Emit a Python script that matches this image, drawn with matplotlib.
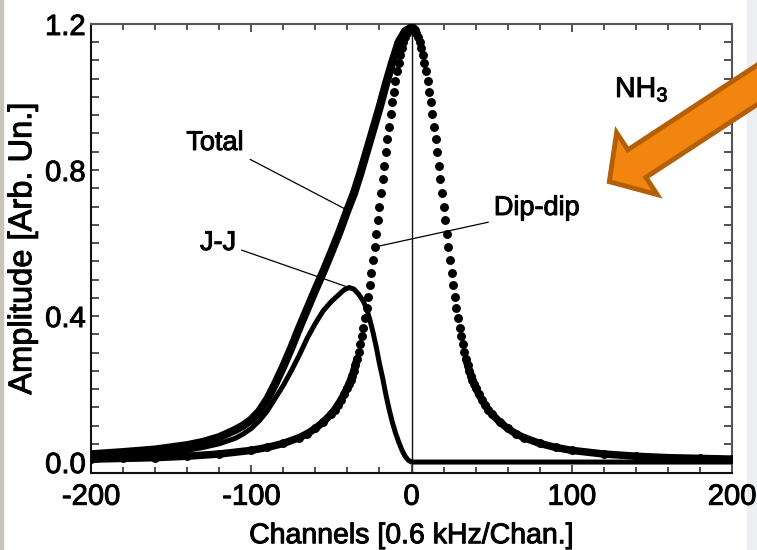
import numpy as np
import matplotlib.pyplot as plt
import matplotlib.patheffects as pe
from matplotlib.patches import FancyArrow, Rectangle
from matplotlib.ticker import MultipleLocator

plt.rcParams['font.family'] = ['Liberation Sans', 'DejaVu Sans']
plt.rcParams['mathtext.fontset'] = 'custom'
plt.rcParams['mathtext.rm'] = 'Liberation Sans'
plt.rcParams['mathtext.it'] = 'Liberation Sans'
plt.rcParams['axes.unicode_minus'] = False

# data
# ---------------------------------------------------------------------------------------
# dip-dip, one point per channel for 0..40 (symmetric), sparser in the tails
dd_core = [1.190, 1.188, 1.184, 1.176, 1.165, 1.152, 1.135, 1.116, 1.094, 1.070,
           1.044, 1.015, 0.985, 0.953, 0.919, 0.884, 0.849, 0.812, 0.775, 0.738,
           0.700, 0.663, 0.626, 0.589, 0.553, 0.518, 0.484, 0.451, 0.422, 0.394,
           0.368, 0.344, 0.322, 0.302, 0.283, 0.266, 0.250, 0.237, 0.225, 0.214,
           0.204]
dd_tail_ch = [42, 44, 46, 48, 50, 55, 60, 65, 70, 80, 90, 100, 120, 140, 160, 180, 200]
dd_tail = [0.186, 0.170, 0.156, 0.143, 0.132, 0.110, 0.092, 0.078, 0.067, 0.051,
           0.040, 0.032, 0.022, 0.016, 0.012, 0.010, 0.008]

jj_ch = [-200, -180, -160, -140, -130, -120, -110, -105, -100, -95, -90, -85, -80, -75,
         -70, -65, -60, -55, -50, -45, -42, -39, -36, -33, -30, -28, -26, -24, -22, -20,
         -18, -16, -14, -12, -10, -8, -6, -4, -2, 0, 200]
jj_amp = [0.013, 0.017, 0.023, 0.032, 0.040, 0.050, 0.065, 0.077, 0.092, 0.113, 0.140,
          0.175, 0.210, 0.250, 0.293, 0.340, 0.380, 0.415, 0.440, 0.460, 0.472, 0.478,
          0.474, 0.460, 0.440, 0.420, 0.390, 0.355, 0.315, 0.270, 0.230, 0.185, 0.145,
          0.110, 0.080, 0.055, 0.033, 0.016, 0.005, 0.0, 0.0]

tot_ch = [-200, -180, -160, -140, -130, -120, -110, -105, -100, -95, -90, -85, -80, -75,
          -70, -65, -60, -55, -50, -45, -40, -36, -32, -28, -24, -20, -16, -12, -8, -4, 0]
tot_amp = [0.021, 0.027, 0.034, 0.046, 0.055, 0.068, 0.088, 0.100, 0.116, 0.139, 0.172,
           0.215, 0.262, 0.313, 0.368, 0.420, 0.472, 0.522, 0.575, 0.630, 0.690, 0.735,
           0.790, 0.850, 0.910, 0.970, 1.035, 1.095, 1.150, 1.180, 1.190]

x_ticks = [-200, -100, 0, 100, 200]
y_ticks = [0.0, 0.4, 0.8, 1.2]
y_tick_labels = ['0.0', '0.4', '0.8', '1.2']

# mirror the dip-dip half profile
dd_ch = np.concatenate([-np.array(dd_tail_ch[::-1]), -np.arange(40, 0, -1),
                        np.arange(0, 41), dd_tail_ch])
dd_amp = np.concatenate([dd_tail[::-1], dd_core[:0:-1], dd_core, dd_tail])
jj_ch = np.array(jj_ch)
jj_amp = np.array(jj_amp)
tot_ch = np.array(tot_ch)
tot_amp = np.array(tot_amp)

heavy = [pe.withStroke(linewidth=0.7, foreground='black')]

# figure
# ---------------------------------------------------------------------------------------
fig = plt.figure(figsize=(7.57, 5.5), dpi=100)
ax = fig.add_axes([0.1202, 0.14, 0.8468, 0.8164])

ax.axvline(0, color='#111111', lw=1.0, zorder=1)

tail = np.abs(dd_ch) >= 34
ax.plot(dd_ch[tail & (dd_ch < 0)], dd_amp[tail & (dd_ch < 0)], '-', c='k', lw=5.4,
        solid_capstyle='round', zorder=2)
ax.plot(dd_ch[tail & (dd_ch > 0)], dd_amp[tail & (dd_ch > 0)], '-', c='k', lw=5.4,
        solid_capstyle='round', zorder=2)
ax.plot(dd_ch, dd_amp, 'o', c='k', ms=5.4, zorder=3)
ax.plot(jj_ch, jj_amp, '-', c='k', lw=3.6, solid_joinstyle='round', zorder=3)
ax.plot(tot_ch, tot_amp, '-', c='k', lw=6.0, solid_capstyle='round',
        solid_joinstyle='round', zorder=3)

ax.set_xlim(-200, 200)
ax.set_ylim(-0.03, 1.2)
ax.set_xticks(x_ticks)
ax.set_yticks(y_ticks)
ax.set_yticklabels(y_tick_labels)
ax.xaxis.set_minor_locator(MultipleLocator(20))
ax.yaxis.set_minor_locator(MultipleLocator(0.05))
ax.tick_params(which='both', direction='in', top=True, right=True, color='#333333',
               width=1.2, labelsize=21)
ax.tick_params(which='major', length=6, pad=7)
ax.tick_params(which='minor', length=4.5)
ax.tick_params(axis='y', which='major', pad=4)
ax.tick_params(axis='y', which='minor', length=5.5)
plt.setp(ax.get_xticklabels() + ax.get_yticklabels(), path_effects=heavy)

for s in ['left', 'bottom']:
    ax.spines[s].set_linewidth(1.5)
    ax.spines[s].set_color('#111111')
for s in ['top', 'right']:
    ax.spines[s].set_linewidth(1.5)
    ax.spines[s].set_color('#555555')

ax.set_xlabel('Channels [0.6 kHz/Chan.]', fontsize=20.5, labelpad=9, path_effects=heavy)
ax.set_ylabel('Amplitude [Arb. Un.]', fontsize=23.5, labelpad=5, path_effects=heavy)

# labels with leader lines
i_tot = np.where(tot_ch == -40)[0][0]
ax.annotate('Total', xy=(tot_ch[i_tot], tot_amp[i_tot]), xytext=(-122.6, 0.874),
            ha='center', va='center', fontsize=19.5, path_effects=heavy,
            arrowprops=dict(arrowstyle='-', lw=0.9, color='k', relpos=(1.0, 0.0),
                            shrinkA=3, shrinkB=0))
i_jj = np.argmax(jj_amp)
ax.annotate('J-J', xy=(jj_ch[i_jj], jj_amp[i_jj]), xytext=(-120.7, 0.60),
            ha='center', va='center', fontsize=19.5, path_effects=heavy,
            arrowprops=dict(arrowstyle='-', lw=0.9, color='k', relpos=(1.0, 0.3),
                            shrinkA=2, shrinkB=0))
i_dd = np.where(dd_ch == -23)[0][0]
ax.annotate('Dip-dip', xy=(dd_ch[i_dd], dd_amp[i_dd]), xytext=(78.3, 0.696),
            ha='center', va='center', fontsize=19.5, path_effects=heavy,
            arrowprops=dict(arrowstyle='-', lw=0.9, color='k', relpos=(0.0, 0.0),
                            shrinkA=2, shrinkB=0))

ax.text(127, 1.0, 'NH$_3$', fontsize=20.5, ha='left', va='baseline', path_effects=heavy)

# orange arrow, in inches
arrow = FancyArrow(8.099, 4.998, -2.006, -1.315, width=0.33, head_width=0.74,
                   head_length=0.33, length_includes_head=True, fc='#F2850F',
                   ec='#B45F06', lw=3.5, transform=fig.dpi_scale_trans, zorder=5)
fig.add_artist(arrow)

# window edges
fig.add_artist(Rectangle((0, 0), 3 / 757, 1, transform=fig.transFigure,
                         color='#c8c4bc', zorder=0))
fig.add_artist(Rectangle((747 / 757, 0), 10 / 757, 1, transform=fig.transFigure,
                         color='#eceef1', zorder=0))

fig.savefig('out.png', dpi=100)
